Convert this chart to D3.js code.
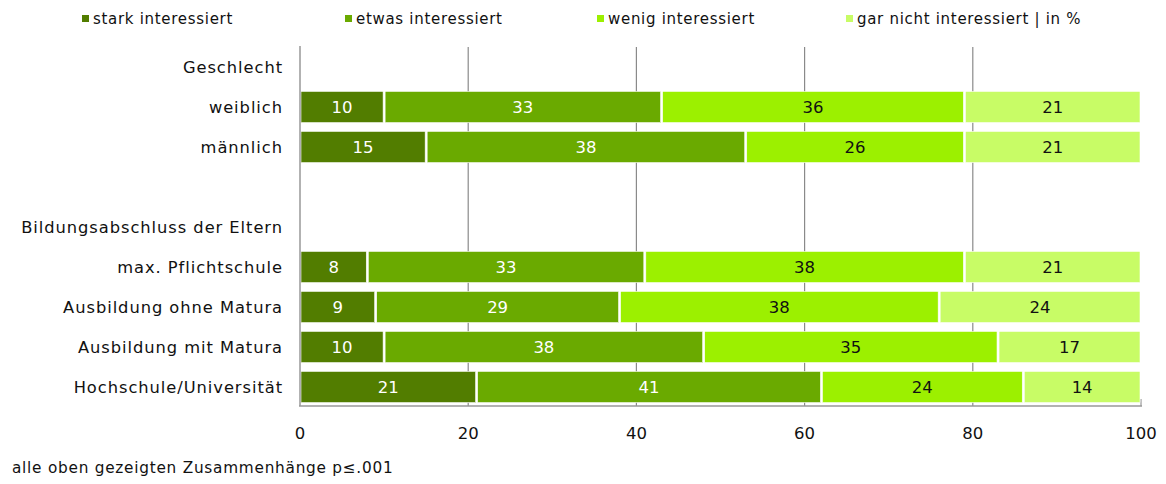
<!DOCTYPE html>
<html><head><meta charset="utf-8">
<script src="https://cdn.jsdelivr.net/npm/d3@7"></script>
<style>body{margin:0;background:#fff}svg{font-family:"DejaVu Sans",Verdana,sans-serif}</style>
</head><body><svg id="c" width="1166" height="484"></svg>
<script>
const rows = ["Geschlecht","weiblich","männlich","","Bildungsabschluss der Eltern","max. Pflichtschule","Ausbildung ohne Matura","Ausbildung mit Matura","Hochschule/Universität"];
const barRows = ["weiblich","männlich","max. Pflichtschule","Ausbildung ohne Matura","Ausbildung mit Matura","Hochschule/Universität"];
const series = ["stark interessiert","etwas interessiert","wenig interessiert","gar nicht interessiert | in %"];
const stark = [10,15,8,9,10,21];
const etwas = [33,38,33,29,38,41];
const wenig = [36,26,38,38,35,24];
const garNicht = [21,21,21,24,17,14];
const ticks = [0,20,40,60,80,100];
const colors = ["#527d00","#6aaa00","#9cf000","#c8fc66"];
const textColors = ["#fff","#fff","#111","#111"];
const footnote = "alle oben gezeigten Zusammenhänge p≤.001";

const svg = d3.select("#c");
const x = d3.scaleLinear().domain([0,100]).range([300,1141]);
const y = d3.scaleBand().domain(rows).range([47,407]).paddingInner(0.22).paddingOuter(0.11);

svg.append("g").selectAll("line").data(ticks.slice(1,-1)).join("line")
  .attr("x1",d=>x(d)).attr("x2",d=>x(d)).attr("y1",47).attr("y2",406)
  .attr("stroke","#8a8a8a").attr("stroke-width",1.2);
svg.append("line").attr("x1",x(100)).attr("x2",x(100)).attr("y1",399).attr("y2",406).attr("stroke","#999").attr("stroke-width",1.2);

const vals = [stark,etwas,wenig,garNicht];
const data = barRows.map((r,i)=>{let c=0;return vals.map((v,k)=>{const o={row:r,k,v:v[i],x0:c};c+=v[i];return o;});});
const g = svg.append("g");
data.flat().forEach(d=>{
  g.append("rect").attr("x",x(d.x0)+1).attr("y",y(d.row)).attr("width",x(d.x0+d.v)-x(d.x0)-2).attr("height",y.bandwidth())
   .attr("fill",colors[d.k]).attr("stroke","#fff").attr("stroke-width",0.6);
  g.append("text").attr("x",(x(d.x0)+x(d.x0+d.v))/2).attr("y",y(d.row)+y.bandwidth()/2).attr("dy","0.36em")
   .attr("text-anchor","middle").attr("font-size",16.5).attr("fill",textColors[d.k]).text(d.v);
});

svg.append("line").attr("x1",300).attr("x2",300).attr("y1",46).attr("y2",406).attr("stroke","#999").attr("stroke-width",1.5);
svg.append("line").attr("x1",299).attr("x2",1142).attr("y1",406).attr("y2",406).attr("stroke","#999").attr("stroke-width",1.5);

svg.append("g").selectAll("text").data(ticks).join("text")
  .attr("x",d=>x(d)).attr("y",439).attr("text-anchor","middle").attr("font-size",16.5).attr("fill","#111").text(d=>d);

svg.append("g").selectAll("text").data(rows).join("text")
  .attr("x",283).attr("y",d=>y(d)+y.bandwidth()/2).attr("dy","0.36em").attr("text-anchor","end")
  .attr("font-size",16.3).attr("letter-spacing","0.95px").attr("fill","#111").text(d=>d);

const lx = [82,345,597,846];
series.forEach((s,i)=>{
  svg.append("rect").attr("x",lx[i]).attr("y",15).attr("width",7).attr("height",7).attr("fill",colors[i]);
  svg.append("text").attr("x",lx[i]+11).attr("y",19).attr("dy","0.36em").attr("font-size",15).attr("letter-spacing","0.7px").attr("fill","#111").text(s);
});

svg.append("text").attr("x",12).attr("y",473).attr("font-size",15.3).attr("letter-spacing","0.75px").attr("fill","#111").text(footnote);
</script></body></html>
